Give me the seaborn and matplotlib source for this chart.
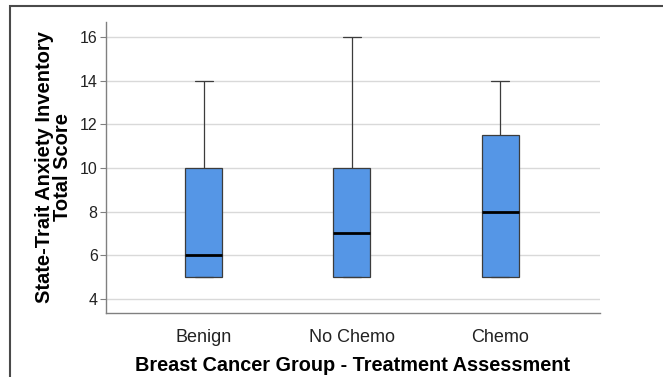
import seaborn as sns
import pandas as pd
import matplotlib.pyplot as plt
from matplotlib.patches import Rectangle

# five-number summaries: min, Q1, median, Q3, max
groups = ["Benign", "No Chemo", "Chemo"]
benign = [5, 5, 6, 10, 14]
no_chemo = [5, 5, 7, 10, 16]
chemo = [5, 5, 8, 11.5, 14]

df = pd.DataFrame({
    "group": [g for g, v in zip(groups, [benign, no_chemo, chemo]) for _ in v],
    "score": benign + no_chemo + chemo,
})

sns.set_style("white")
plt.rcParams["font.family"] = ["Liberation Sans", "DejaVu Sans"]
plt.rcParams["text.color"] = "black"
plt.rcParams["axes.labelcolor"] = "black"
plt.rcParams["xtick.color"] = "black"
plt.rcParams["ytick.color"] = "black"

fig = plt.figure(figsize=(6.63, 3.77), dpi=100)
ax = fig.add_axes([0.160, 0.170, 0.745, 0.7716])

ax.yaxis.grid(True, color="#d9d9d9", linewidth=1)
ax.set_axisbelow(True)

sns.boxplot(data=df, x="group", y="score", order=groups, ax=ax, width=0.25,
            color="#5596e6", linecolor="#3c3c3c", linewidth=0.9, saturation=1,
            medianprops=dict(color="black", linewidth=2))

ax.set_ylim(3.36, 16.69)
ax.set_xlim(-0.66, 2.675)
ax.set_yticks([4, 6, 8, 10, 12, 14, 16])

for s in ["top", "right"]:
    ax.spines[s].set_visible(False)
for s in ["left", "bottom"]:
    ax.spines[s].set_color("#808080")
    ax.spines[s].set_linewidth(1)

ax.tick_params(axis="y", left=True, length=4, color="#808080", labelcolor="#222222",
               labelsize=11.5, pad=2)
ax.tick_params(axis="x", bottom=False, labelcolor="#222222", labelsize=13, pad=8)

ax.set_xlabel("Breast Cancer Group - Treatment Assessment", fontsize=14.3,
              fontweight="bold", labelpad=7)
ax.set_ylabel("State-Trait Anxiety Inventory\nTotal Score", fontsize=14.5,
              fontweight="bold", labelpad=6, linespacing=0.9)

# outer frame as in the original export
fig.add_artist(Rectangle((10 / 663, -0.1), 1.2, 1.1 - 6 / 377, transform=fig.transFigure,
                         fill=False, edgecolor="#4a4a4a", linewidth=1.5))

fig.savefig("out.png", dpi=100)
